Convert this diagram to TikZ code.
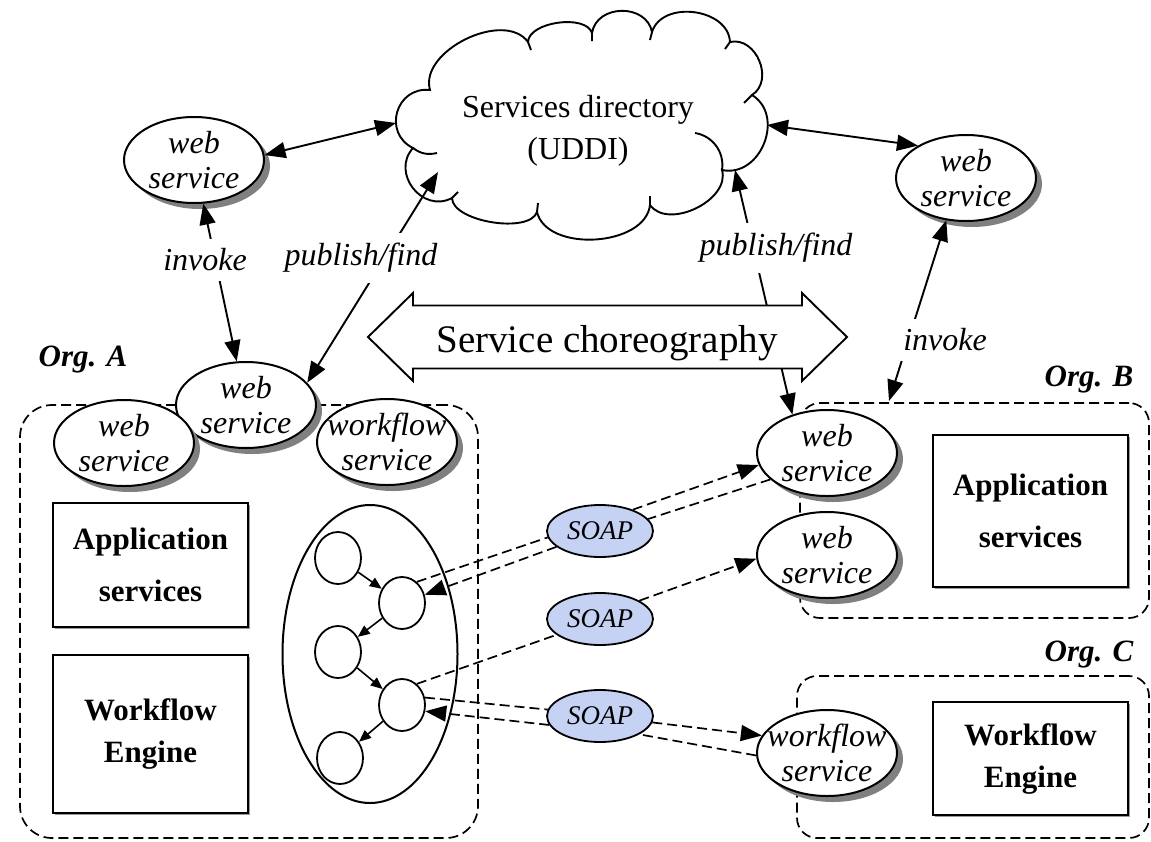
\documentclass[tikz,border=0pt]{standalone}
\usepackage{fontspec}
\setmainfont{Liberation Serif}
\usetikzlibrary{arrows.meta,shapes.geometric,shadows}

\definecolor{soapblue}{RGB}{197,210,243}

\begin{document}
\begin{tikzpicture}[x=1pt,y=-1pt,
  svc/.style={ellipse, draw, line width=2pt, fill=white,
    minimum width=140pt, minimum height=86pt, inner sep=-20pt, align=center,
    font=\fontsize{32}{35}\selectfont\itshape,
    drop shadow={shadow xshift=6pt, shadow yshift=-6pt, fill=black!50, opacity=1}},
  soap/.style={ellipse, draw, line width=1.8pt, fill=soapblue,
    minimum width=106pt, minimum height=52pt, inner sep=-10pt,
    font=\fontsize{27}{30}\selectfont\itshape},
  task/.style={ellipse, draw, line width=1.8pt, fill=white,
    minimum width=46pt, minimum height=52pt, inner sep=0pt},
  pool/.style={ellipse, draw, line width=2pt,
    minimum width=175pt, minimum height=298pt, inner sep=0pt},
  block/.style={draw, line width=2pt, fill=white, align=center,
    font=\fontsize{31}{42}\selectfont\bfseries,
    drop shadow={shadow xshift=2pt, shadow yshift=-2pt, fill=black!40, opacity=1}},
  org/.style={draw, line width=1.7pt, dash pattern=on 10pt off 5pt,
    inner sep=0pt},
  orgname/.style={font=\fontsize{31}{34}\selectfont\bfseries\itshape},
  lbl/.style={fill=white, inner xsep=7pt, inner ysep=10pt,
    font=\fontsize{32}{35}\selectfont\itshape},
  big/.style={{Triangle[length=21pt,width=16pt]}-{Triangle[length=21pt,width=16pt]}, line width=1.9pt},
  msg/.style={line width=1.7pt, dash pattern=on 10pt off 5pt},
  msgtip/.style={msg, -{Triangle[length=21pt,width=16pt]}},
  flow/.style={line width=1.6pt, -{Triangle[length=12pt,width=10pt]}}
]

% page
\fill[white] (0,0) rectangle (1151,841);
\useasboundingbox (0,0) rectangle (1151,841);

% organisation boundaries
\node[org, rounded corners=32pt, minimum width=458pt, minimum height=433pt] (orgA) at (249,621.5) {};
\node[org, rounded corners=20pt, minimum width=349pt, minimum height=215pt] (orgB) at (974.5,510.5) {};
\node[org, rounded corners=20pt, minimum width=352pt, minimum height=162pt] (orgC) at (973,757) {};

\node[orgname] (orgAname) at (83,360) {Org. A};
\node[orgname] (orgBname) at (1089,380) {Org. B};
\node[orgname] (orgCname) at (1089,655) {Org. C};

% services directory cloud
\draw[line width=1.9pt, fill=white]
  (430,90) to[bend left=80, looseness=.95] (528,42)
  to[bend left=80, looseness=.8] (592,33)
  to[bend left=80, looseness=1.25] (652,32)
  to[bend left=80, looseness=1.1] (730,42)
  to[bend left=80, looseness=1.2] (752,95)
  to[bend left=80, looseness=1.25] (722,170)
  to[bend left=80, looseness=1.0] (650,205)
  to[bend left=80, looseness=.95] (537,212)
  to[bend left=80, looseness=.7] (452,198)
  to[bend left=80, looseness=1.35] (413,148)
  to[bend left=80, looseness=1.45] (430,90) -- cycle;
\draw[line width=1.9pt]
  (528,42) -- (531,50)  (592,33) -- (592,41)  (652,32) -- (650,40)
  (730,42) -- (725,49)  (752,95) -- (744,103)  (650,205) -- (650,196)
  (537,212) -- (538,203)  (452,198) -- (458,192);
\draw[line width=1.9pt] (413,148) to[bend right=25] (437,153);
\draw[line width=1.9pt] (722,170) to[bend right=45] (695,133);
\node[align=center, font=\fontsize{32}{42}\selectfont] (uddi) at (578,131) {Services directory\\(UDDI)};

\coordinate (cloudW) at (396,123);
\coordinate (cloudE) at (767,125);
\coordinate (cloudSW) at (438,172);
\coordinate (cloudSE) at (735,170);
\coordinate (orgBtop) at (889,401);

% web services
\node[svc] (wsTL) at (194,160) {web\\service};
\node[svc] (wsTR) at (966,178) {web\\service};
\node[svc] (wsA2) at (246,405) {web\\service};
\node[svc] (wsA1) at (124,443) {web\\service};
\node[svc] (wsA3) at (387,442) {workflow\\service};
\node[svc] (wsB1) at (827,453) {web\\service};
\node[svc] (wsB2) at (827,555) {web\\service};
\node[svc] (wsC) at (827,753) {workflow\\service};

% application and engine blocks
\node[block, minimum width=195pt, minimum height=124pt] (appA) at (150.5,565) {Application\\[10pt]services};
\node[block, minimum width=195pt, minimum height=158pt] (wfA) at (150.5,734) {Workflow\\Engine};
\node[block, minimum width=195pt, minimum height=152pt] (appB) at (1030.5,511) {Application\\[10pt]services};
\node[block, minimum width=195pt, minimum height=113pt] (wfC) at (1030.5,758.5) {Workflow\\Engine};

% process inside the workflow engine
\node[pool] (proc) at (370,654) {};
\node[task] (c1) at (338,558) {};
\node[task] (c2) at (402,603) {};
\node[task] (c3) at (338,652) {};
\node[task] (c4) at (402,705) {};
\node[task] (c5) at (340,758) {};
\draw[flow] (c1) -- (c2);
\draw[flow] (c2) -- (c3);
\draw[flow] (c3) -- (c4);
\draw[flow] (c4) -- (c5);

% SOAP messages
\node[soap] (soap1) at (600,531) {SOAP};
\node[soap] (soap2) at (600,619) {SOAP};
\node[soap] (soap3) at (600,716) {SOAP};

\draw[msg] (c2.55) -- (soap1.187);
\draw[msgtip] (soap1.33) -- (wsB1.190);
\draw[msg] (wsB1.205) -- (soap1.14);
\draw[msgtip] (soap1.200) -- (c2.20);

\draw[msg] (c4.55) -- (soap2.200);
\draw[msgtip] (soap2.25) -- (wsB2.183);

\draw[msg] (c4.18) -- (soap3.173);
\draw[msgtip] (soap3.-7) -- (wsC.165);
\draw[msg] (wsC.182) -- (soap3.-25);
\draw[msgtip] (soap3.190) -- (c4.-15);

% directory and invocation links
\draw[big] (wsTL.4) -- (cloudW);
\draw[big] (cloudE) -- (wsTR.146);
\draw[big] (wsTL) -- (wsA2);
\draw[big] (wsA2.20) -- (cloudSW);
\draw[big] (cloudSE) -- (wsB1.132);
\draw[big] (wsTR.245) -- (orgBtop);

% choreography
\draw[line width=1.9pt, fill=white]
  (368,337) -- (413,293) -- (413,305.5) -- (802,305.5) -- (802,293) -- (847,337)
  -- (802,381) -- (802,368.5) -- (413,368.5) -- (413,381) -- cycle;
\node[font=\fontsize{39}{45}\selectfont] (chor) at (607,343) {Service choreography};

% link labels
\node[lbl] (invA) at (205,260) {invoke};
\node[lbl] (pubA) at (361,258) {publish/find};
\node[lbl] (pubB) at (776,248) {publish/find};
\node[lbl] (invB) at (945,340) {invoke};

\end{tikzpicture}
\end{document}
